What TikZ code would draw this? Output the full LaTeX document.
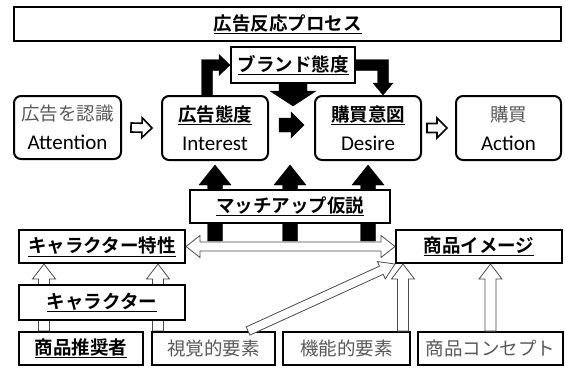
\documentclass[tikz,border=0pt]{standalone}
\usepackage{fontspec}
\setmainfont{Carlito}
\newfontfamily\jp{Noto Sans CJK JP}[BoldFont={Noto Sans CJK JP Bold}]
\usetikzlibrary{calc}
\pgfdeclarelayer{bg}
\pgfsetlayers{bg,main}
\definecolor{tg}{RGB}{89,89,89}
\newcommand\jpt{\jp\fontsize{18.5}{29}\selectfont}
\newcommand\hd[1]{{\jpt\bfseries\underline{#1}}}
\newcommand\gt[1]{{\jpt\textcolor{tg}{#1}}}
% block arrow: #1 style, #2 start, #3 tip, #4 shaft half width, #5 head half width, #6 head length
\newcommand\blkarr[6]{%
  \path ($#3!#6!#2$) coordinate (bac);
  \draw[#1] ($#2!#4!90:#3$) -- ($(bac)!#4!-90:#2$) -- ($(bac)!#5!-90:#2$) -- #3
    -- ($(bac)!#5!90:#2$) -- ($(bac)!#4!90:#2$) -- ($#2!#4!-90:#3$) -- cycle;}
\tikzset{
  box/.style={draw=black, line width=2pt, fill=white, inner sep=0pt, font=\jpt},
  rbox/.style={box, rounded corners=7pt, line width=2pt, align=center, font=\fontsize{21}{29}\selectfont},
  gbox/.style={box, line width=2pt, text=tg},
  blk/.style={fill=black, draw=black, line width=0.4pt},
  hol/.style={fill=white, draw=black!70, line width=0.8pt},
  holb/.style={fill=white, draw=black, line width=1.6pt, line join=miter}
}
\begin{document}
\begin{tikzpicture}[x=1pt,y=-1pt]
\useasboundingbox (0,0) rectangle (565,367);
% nodes
\node[box, minimum width=547pt, minimum height=34pt] (title) at (287.5,24) {\hd{広告反応プロセス}};
\node[box, minimum width=124pt, minimum height=36pt] (brand) at (293,65) {\hd{ブランド態度}};
\node[rbox, minimum width=107pt, minimum height=63pt] (attn) at (67.5,127.5) {\gt{広告を認識}\\Attention};
\node[rbox, minimum width=106pt, minimum height=64pt] (intr) at (215,128) {\hd{広告態度}\\Interest};
\node[rbox, minimum width=106pt, minimum height=64pt] (desire) at (368,128) {\hd{購買意図}\\Desire};
\node[rbox, minimum width=105pt, minimum height=64pt] (action) at (508.5,128) {\gt{購買}\\Action};
\node[box, minimum width=200pt, minimum height=33pt] (match) at (290,206.5) {\hd{マッチアップ仮説}};
\node[box, minimum width=166pt, minimum height=33pt] (chartr) at (102,246.5) {\hd{キャラクター特性}};
\node[box, minimum width=166pt, minimum height=33pt] (img) at (479,246.5) {\hd{商品イメージ}};
\node[box, minimum width=166pt, minimum height=35pt] (chara) at (102,302.5) {\hd{キャラクター}};
\node[box, minimum width=124pt, minimum height=33pt] (rec) at (81,348.5) {\hd{商品推奨者}};
\node[gbox, minimum width=123pt, minimum height=33pt] (vis) at (213.5,348.5) {視覚的要素};
\node[gbox, minimum width=127pt, minimum height=33pt] (func) at (346.5,348.5) {機能的要素};
\node[gbox, minimum width=145pt, minimum height=33pt] (concept) at (490.5,348.5) {商品コンセプト};

% helper coordinates
\coordinate (yb) at (0,241);
\coordinate (yt) at (0,165);

% arrows behind boxes
\begin{pgfonlayer}{bg}
  \coordinate (u1s) at (intr.south |- yb);  \coordinate (u1e) at (intr.south |- yt);
  \coordinate (u2s) at (match.center |- yb); \coordinate (u2e) at (match.center |- yt);
  \coordinate (u3s) at (desire.south |- yb); \coordinate (u3e) at (desire.south |- yt);
  \blkarr{blk}{(u1s)}{(u1e)}{7.5pt}{16pt}{20pt}
  \blkarr{blk}{(u2s)}{(u2e)}{7.5pt}{16pt}{20pt}
  \blkarr{blk}{(u3s)}{(u3e)}{7.5pt}{16pt}{20pt}
  \coordinate (h1s) at ($(rec.north west)+(26,0)$); \coordinate (h1e) at (h1s |- chartr.south);
  \coordinate (h2s) at ($(vis.north west)+(7,0)$);  \coordinate (h2e) at (h2s |- chartr.south);
  \blkarr{hol}{(h1s)}{(h1e)}{5.5pt}{11.5pt}{15pt}
  \blkarr{hol}{(h2s)}{(h2e)}{5.5pt}{11.5pt}{15pt}
\end{pgfonlayer}

% process arrows
\coordinate (a1s) at ($(attn.east)+(9,0)$);   \coordinate (a1e) at ($(intr.west)+(-9,0)$);
\coordinate (a2s) at ($(desire.east)+(5,0)$); \coordinate (a2e) at ($(action.west)+(-8,0)$);
\blkarr{holb}{(a1s)}{(a1e)}{4.5pt}{10pt}{10pt}
\blkarr{holb}{(a2s)}{(a2e)}{4.5pt}{10pt}{10pt}
\coordinate (a3s) at ($(intr.east)+(10,-3)$); \coordinate (a3e) at ($(desire.west)+(-10,-3)$);
\blkarr{blk}{(a3s)}{(a3e)}{7pt}{13pt}{13pt}
\coordinate (a4e) at ($(brand.south)+(0,22)$);
\blkarr{blk}{(brand.south)}{(a4e)}{14pt}{23pt}{15pt}

% bent arrows
\draw[blk] ($(intr.north)+(-13.5,0)$) |- ($(brand.west)+(-11,-5.5)$) -- ++(0,-5) -- (brand.west)
  -- ++(-11,10.5) -- ++(0,-5) -| ($(intr.north)+(-2.5,0)$) -- cycle;
\draw[blk] ($(brand.east)+(0,-5.5)$) -| ($(desire.north)+(20.5,-12)$) -- ++(4.5,0)
  -- ($(desire.north)+(15,0)$) -- ++(-10,-12) -- ++(4.5,0) |- ($(brand.east)+(0,5.5)$) -- cycle;

% double arrow
\draw[hol] (chartr.east) -- ++(14,-11) -- ++(0,6.5) -- ($(img.west)+(-14,-4.5)$) -- ++(0,-6.5)
  -- (img.west) -- ++(-14,11) -- ++(0,-6.5) -- ($(chartr.east)+(14,4.5)$) -- ++(0,6.5) -- cycle;

% arrows into product image
\coordinate (h3s) at ($(vis.north west)+(97,0)$);
\blkarr{hol}{(h3s)}{(img.south west)}{4.5pt}{9.5pt}{15pt}
\coordinate (h4s) at ($(func.north east)+(-8,0)$); \coordinate (h4e) at (h4s |- img.south);
\blkarr{hol}{(h4s)}{(h4e)}{5.5pt}{11.5pt}{15pt}
\coordinate (h5e) at (concept.north |- img.south);
\blkarr{hol}{(concept.north)}{(h5e)}{5.5pt}{11.5pt}{15pt}
\end{tikzpicture}
\end{document}
